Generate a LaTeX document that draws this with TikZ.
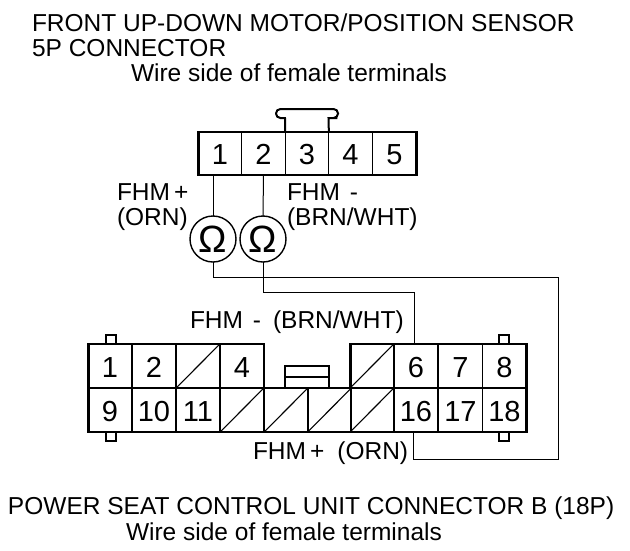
\documentclass[tikz,border=0pt]{standalone}
\usepackage{fontspec}
\setmainfont{Liberation Sans}

\begin{document}
\begin{tikzpicture}[x=1pt, y=-1pt,
            every node/.style = {outer sep=0pt},
            txt/.style = {anchor=base west, inner sep=0pt, font=\fontsize{24.5}{24.5}\selectfont},
            pin/.style = {shape=rectangle, draw, line width=1.2pt, inner sep=0pt,
                    text height=22.5pt, text depth=0pt,
                    minimum height=44pt, font=\fontsize{29}{29}\selectfont},
            topcell/.style = {pin, minimum width=43.7pt, minimum height=43pt},
            lowcell/.style = {pin, minimum width=43.8pt},
            tab/.style = {shape=rectangle, draw, line width=2pt, inner sep=0pt,
                    minimum width=10pt, minimum height=9pt},
            ohm/.style = {shape=circle, draw, line width=1.4pt, inner sep=0pt,
                    minimum size=46pt, font=\fontsize{38}{38}\selectfont},
            shell/.style = {line width=2.8pt, line join=miter},
            wire/.style = {line width=1pt},
            slash/.style = {line width=1.1pt}]
    \useasboundingbox (0,0) rectangle (630,550);

    % headings
    \node[txt] (title1) at (32,31) {FRONT UP-DOWN MOTOR/POSITION SENSOR};
    \node[txt] (title2) at (32,56) {5P CONNECTOR};
    \node[txt] (side1) at (131,81) {Wire side of female terminals};
    \node[txt] (title3) at (8,514) {POWER SEAT CONTROL UNIT CONNECTOR B (18P)};
    \node[txt] (side2) at (126,540) {Wire side of female terminals};

    % motor connector
    \foreach \n/\x in {1/220, 2/263.5, 3/307, 4/350.5, 5/394.5}
        \node[topcell] (m\n) at (\x,153.5) {\n};
    \draw[shell] (m1.north west) rectangle (m5.south east);
    \draw[line width=2pt] (m3.north west) -- (285,118) -- (281,118)
        [rounded corners=4.4pt] -- (276,118) -- (276,109) -- (338,109) -- (338,118) -- (333,118)
        [sharp corners] -- (328.5,118) -- (m3.north east);

    % seat unit connector
    \foreach \n/\x/\t in {1/110/1, 2/154/2, 3/198/, 4/242/4, 5/372/, 6/416/6, 7/460.5/7, 8/504.5/8}
        \node[lowcell] (a\n) at (\x,366) {\t};
    \foreach \n/\x/\t in {9/110/9, 10/154/10, 11/198/11, 12/242/, 13/286/, 14/329.5/, 15/372/,
            16/416/16, 17/460.5/17, 18/504.5/18}
        \node[lowcell] (b\n) at (\x,410) {\t};
    \node[tab, minimum width=44pt, minimum height=22pt, anchor=south] (key) at (307,388) {};
    \node[tab, anchor=south] (tabA) at (111,344) {};
    \node[tab, anchor=north] (tabB) at (111,432) {};
    \node[tab, anchor=south] (tabC) at (504,344) {};
    \node[tab, anchor=north] (tabD) at (504,432) {};
    \draw[slash] (key.west) -- (key.east);
    \foreach \c in {a3, a5, b12, b13, b14, b15}
        \draw[slash] (\c.south west) -- (\c.north east);
    \draw[shell] (a4.south east) -- (a4.north east) -- (a1.north west) -- (b9.south west)
        -- (b18.south east) -- (a8.north east) -- (a5.north west) -- (a5.south west) -- (key.south east);
    \draw[shell] (a4.south east) -- (key.south west);

    % meters and wires
    \node[ohm] (om1) at (213,239) {Ω};
    \node[ohm] (om2) at (263,239) {Ω};
    \coordinate (ornA) at (558,277);
    \coordinate (ornB) at (558,459);
    \coordinate (brnA) at (414,292);
    \draw[wire] ([xshift=-7pt]m1.south) -- (om1.north);
    \draw[wire] (m2.south) -- (om2.north);
    \draw[wire] (om1.south) |- (ornA) -- (ornB) -| ([xshift=-3pt]b16.south);
    \draw[wire] (om2.south) |- (brnA) -- ([xshift=-2pt]a6.north);

    % wire labels
    \node[txt] (lab1) at (117,200) {FHM\hspace{4pt}+};
    \node[txt] (lab2) at (117,225) {(ORN)};
    \node[txt] (lab3) at (287,200) {FHM\hspace{3pt} -};
    \node[txt] (lab4) at (287,225) {(BRN/WHT)};
    \node[txt] (lab5) at (190,328) {FHM\hspace{3pt} -\hspace{12pt}(BRN/WHT)};
    \node[txt] (lab6) at (253,459) {FHM\hspace{4pt}+\hspace{13pt}(ORN)};
\end{tikzpicture}
\end{document}
